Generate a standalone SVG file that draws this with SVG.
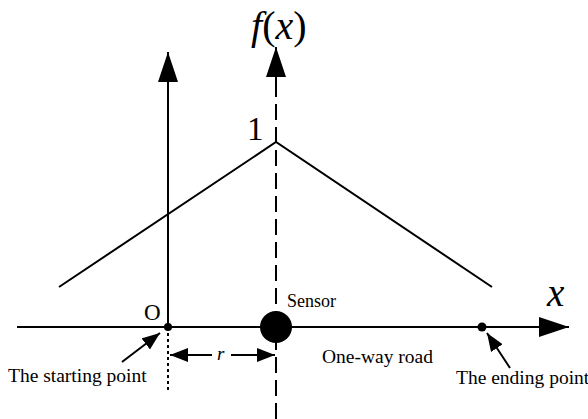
<svg xmlns="http://www.w3.org/2000/svg" width="588" height="419" viewBox="0 0 588 419">
<style>
.ln{stroke:#000;stroke-width:2;fill:none}
.it{font-style:italic}
</style>
<defs>
<marker id="big" markerUnits="userSpaceOnUse" markerWidth="30" markerHeight="20" refX="30" refY="10" orient="auto"><path d="M0,0 L30,10 L0,20 z" fill="#000"/></marker>
<marker id="sm" markerUnits="userSpaceOnUse" markerWidth="18" markerHeight="14" refX="18" refY="7" orient="auto"><path d="M0,0 L18,7 L0,14 z" fill="#000"/></marker>
</defs>
<rect width="588" height="419" fill="#fff"/>
<g id="connectors">
<line class="ln" x1="17" y1="327" x2="569" y2="327" marker-end="url(#big)"/>
<line class="ln" x1="168" y1="327" x2="168" y2="52" marker-end="url(#big)"/>
<line class="ln" x1="276" y1="419" x2="276" y2="77" stroke-dasharray="16,7"/>
<line class="ln" x1="276" y1="82" x2="276" y2="47" marker-end="url(#big)"/>
<polyline class="ln" points="59,287 276,142 492,287"/>
<line class="ln" x1="168" y1="333" x2="168" y2="390" stroke-dasharray="3,3"/>
<line class="ln" x1="122" y1="362" x2="160" y2="333" marker-end="url(#sm)"/>
<line class="ln" x1="510" y1="368" x2="487" y2="333" marker-end="url(#sm)"/>
<line class="ln" x1="212" y1="355" x2="170" y2="355" marker-end="url(#sm)"/>
<line class="ln" x1="231" y1="355" x2="275" y2="355" marker-end="url(#sm)"/>
</g>
<g id="origin"><circle cx="168" cy="327" r="4" fill="#000"/><text font-family="Liberation Serif" x="144" y="320" font-size="23">O</text></g>
<g id="sensor"><circle cx="276" cy="327" r="16" fill="#000"/><text font-family="Liberation Serif" x="287" y="307" font-size="18">Sensor</text></g>
<g id="ending"><circle cx="482" cy="327" r="4.5" fill="#000"/></g>
<g id="labels">
<text font-family="Liberation Serif" x="251" y="39" font-size="40"><tspan class="it">f</tspan>(<tspan class="it">x</tspan>)</text>
<text font-family="Liberation Serif" x="247" y="140" font-size="33">1</text>
<text font-family="Liberation Serif" class="it" x="547" y="306" font-size="39">x</text>
<text font-family="Liberation Serif" class="it" x="217" y="360" font-size="19">r</text>
<text font-family="Liberation Serif" x="322" y="363" font-size="19.5">One-way road</text>
<text font-family="Liberation Serif" x="8" y="382" font-size="19.5">The starting point</text>
<text font-family="Liberation Serif" x="456" y="384" font-size="19.5">The ending point</text>
</g>
</svg>
